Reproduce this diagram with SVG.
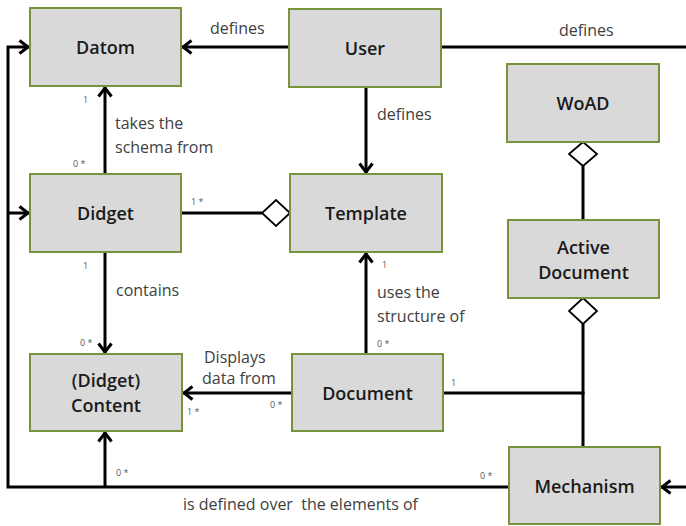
<svg xmlns="http://www.w3.org/2000/svg" width="686" height="526" viewBox="0 0 686 526">
  <style>
    .box { fill: #d9d9d9; stroke: #77933c; stroke-width: 2; }
    .name { font-family: "Open Sans", "Liberation Sans", sans-serif; font-weight: 600; font-size: 18px; fill: #1a1a1a; text-anchor: middle; }
    .lbl { font-family: "Open Sans", "Liberation Sans", sans-serif; font-size: 16px; fill: #404040; }
    .mult { font-family: "Open Sans", "Liberation Sans", sans-serif; font-size: 9px; fill: #595959; }
    .ln { fill: none; stroke: #000; stroke-width: 3; }
    .dia { fill: #fff; stroke: #000; stroke-width: 1.8; }
  </style>
  <defs>
    <marker id="arrow" viewBox="0 0 14 16" refX="12.5" refY="8" markerWidth="14" markerHeight="16" markerUnits="userSpaceOnUse" orient="auto">
      <path d="M3,1.5 L11.5,8 L3,14.5" fill="none" stroke="#000" stroke-width="3"/>
    </marker>
  </defs>

  <rect width="686" height="526" fill="#fff"/>

  <!-- connectors -->
  <g id="connectors">
    <!-- User defines Datom -->
    <line class="ln" x1="289" y1="47" x2="182" y2="47" marker-end="url(#arrow)"/>
    <!-- User defines Mechanism (runs off the right edge) -->
    <path class="ln" d="M441,47 H692 V487 H661" marker-end="url(#arrow)"/>
    <!-- User defines Template -->
    <line class="ln" x1="366" y1="87" x2="366" y2="173" marker-end="url(#arrow)"/>
    <!-- Didget takes the schema from Datom -->
    <line class="ln" x1="105" y1="174" x2="105" y2="87" marker-end="url(#arrow)"/>
    <!-- Didget contains Content -->
    <line class="ln" x1="105" y1="252" x2="105" y2="353" marker-end="url(#arrow)"/>
    <!-- Template aggregates Didget -->
    <line class="ln" x1="181" y1="213" x2="262" y2="213"/>
    <polygon class="dia" points="290,213 276,200 262,213 276,226"/>
    <!-- Document uses the structure of Template -->
    <line class="ln" x1="366" y1="354" x2="366" y2="253" marker-end="url(#arrow)"/>
    <!-- Document displays data from Content -->
    <line class="ln" x1="292" y1="393" x2="183" y2="393" marker-end="url(#arrow)"/>
    <!-- WoAD aggregates Active Document -->
    <line class="ln" x1="583" y1="166" x2="583" y2="220"/>
    <polygon class="dia" points="583,142 597,154 583,166 569,154"/>
    <!-- Active Document aggregates Document and Mechanism -->
    <line class="ln" x1="583" y1="324" x2="583" y2="447"/>
    <line class="ln" x1="443" y1="393" x2="584.5" y2="393"/>
    <polygon class="dia" points="583,298 597,311 583,324 569,311"/>
    <!-- Mechanism is defined over the elements of Datom, Didget, Content -->
    <path class="ln" d="M509,487 H8 V47 H29" marker-end="url(#arrow)"/>
    <line class="ln" x1="8" y1="213" x2="29" y2="213" marker-end="url(#arrow)"/>
    <line class="ln" x1="105" y1="487" x2="105" y2="432" marker-end="url(#arrow)"/>
  </g>

  <!-- connector labels -->
  <g id="labels">
    <text class="lbl" x="210" y="34">defines</text>
    <text class="lbl" x="559" y="36">defines</text>
    <text class="lbl" x="377" y="120">defines</text>
    <text class="lbl" x="115" y="129">takes the</text>
    <text class="lbl" x="115" y="153">schema from</text>
    <text class="lbl" x="116" y="296">contains</text>
    <text class="lbl" x="377" y="298">uses the</text>
    <text class="lbl" x="377" y="322">structure of</text>
    <text class="lbl" x="204" y="363">Displays</text>
    <text class="lbl" x="202" y="384">data from</text>
    <text class="lbl" x="183" y="510" xml:space="preserve">is defined over  the elements of</text>

    <text class="mult" x="83" y="103">1</text>
    <text class="mult" x="73" y="167">0 *</text>
    <text class="mult" x="191" y="205">1 *</text>
    <text class="mult" x="83" y="269">1</text>
    <text class="mult" x="80" y="346">0 *</text>
    <text class="mult" x="382" y="268">1</text>
    <text class="mult" x="377" y="347">0 *</text>
    <text class="mult" x="187" y="415">1 *</text>
    <text class="mult" x="270" y="408">0 *</text>
    <text class="mult" x="451" y="386">1</text>
    <text class="mult" x="480" y="479">0 *</text>
    <text class="mult" x="116" y="476">0 *</text>
  </g>

  <!-- nodes -->
  <g id="datom">
    <rect class="box" x="30" y="8" width="151" height="78"/>
    <text class="name" x="105.5" y="54">Datom</text>
  </g>
  <g id="user">
    <rect class="box" x="289" y="9" width="152" height="78"/>
    <text class="name" x="365" y="55">User</text>
  </g>
  <g id="woad">
    <rect class="box" x="507" y="64" width="152" height="78"/>
    <text class="name" x="583" y="110">WoAD</text>
  </g>
  <g id="didget">
    <rect class="box" x="30" y="174" width="151" height="78"/>
    <text class="name" x="105.5" y="220">Didget</text>
  </g>
  <g id="template">
    <rect class="box" x="290" y="174" width="152" height="78"/>
    <text class="name" x="366" y="220">Template</text>
  </g>
  <g id="active-document">
    <rect class="box" x="508" y="220" width="151" height="78"/>
    <text class="name" x="583.5" y="254">Active</text>
    <text class="name" x="583.5" y="279">Document</text>
  </g>
  <g id="content">
    <rect class="box" x="30" y="354" width="152" height="77"/>
    <text class="name" x="106" y="387">(Didget)</text>
    <text class="name" x="106" y="412">Content</text>
  </g>
  <g id="document">
    <rect class="box" x="292" y="354" width="151" height="77"/>
    <text class="name" x="367.5" y="400">Document</text>
  </g>
  <g id="mechanism">
    <rect class="box" x="509" y="447" width="151" height="77"/>
    <text class="name" x="584.5" y="493">Mechanism</text>
  </g>
</svg>
